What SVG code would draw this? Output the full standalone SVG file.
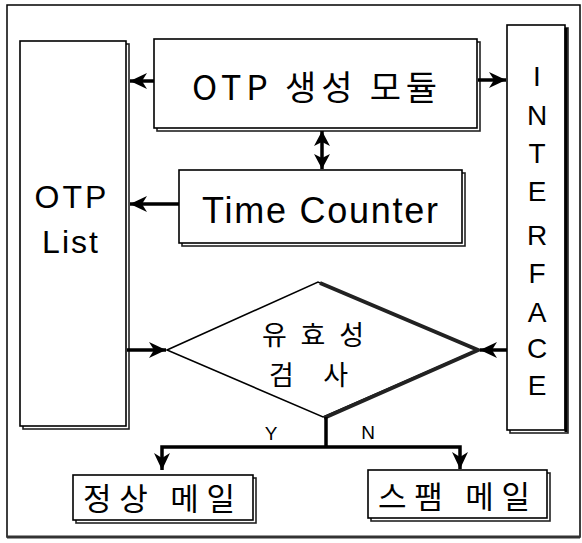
<svg xmlns="http://www.w3.org/2000/svg" width="582" height="543" viewBox="0 0 582 543">
<defs>
<style>
.box{fill:#fff;stroke:#000;stroke-width:1.6}
.sh{fill:none;stroke:#222;stroke-width:1.6}
.t{font-family:"Liberation Sans","Noto Sans CJK KR",sans-serif;fill:#000}
.k{font-family:"Noto Sans CJK KR","Liberation Sans",sans-serif;fill:#000}
.ln{fill:none;stroke:#000;stroke-width:3.5}
</style>
<marker id="ah" markerUnits="userSpaceOnUse" markerWidth="20" markerHeight="20" viewBox="-18 -10 20 20" refX="0" refY="0" orient="auto">
<path d="M0,0 L-17,-8 L-12,0 L-17,8 Z" fill="#000"/>
</marker>
<marker id="ahs" markerUnits="userSpaceOnUse" markerWidth="20" markerHeight="20" viewBox="-18 -10 20 20" refX="0" refY="0" orient="auto">
<path d="M0,0 L-15,-8 L-11,0 L-15,8 Z" fill="#000"/>
</marker>
</defs>
<rect width="582" height="543" fill="#fff"/>
<g id="frame">
<rect x="7" y="5" width="573" height="532" fill="none" stroke="#000" stroke-width="1.5"/>
<line x1="7" y1="537" x2="580" y2="537" stroke="#333" stroke-width="3"/>
</g>
<g id="otp-list">
<rect class="sh" x="23" y="44" width="106" height="385"/>
<rect class="box" x="20" y="41" width="106" height="385"/>
<text class="t" x="72" y="208" font-size="32" text-anchor="middle" letter-spacing="3">OTP</text>
<text class="t" x="71" y="253" font-size="32" text-anchor="middle" letter-spacing="2">List</text>
</g>
<g id="otp-module">
<rect class="sh" x="157" y="42" width="323" height="89"/>
<rect class="box" x="154" y="39" width="323" height="89"/>
<text class="k" x="192" y="100" font-size="34" textLength="245" lengthAdjust="spacing">OTP 생성 모듈</text>
</g>
<g id="time-counter">
<rect class="sh" x="182" y="173" width="283" height="73"/>
<rect class="box" x="179" y="170" width="283" height="73"/>
<text class="t" x="202" y="223" font-size="36" textLength="236" lengthAdjust="spacing">Time Counter</text>
</g>
<g id="interface">
<rect class="sh" x="510" y="28" width="58" height="405"/>
<rect class="box" x="507" y="25" width="58" height="405"/>
<line x1="566" y1="28" x2="566" y2="432" stroke="#000" stroke-width="3"/>
<g class="t" font-size="28" text-anchor="middle">
<text x="537" y="86">I</text>
<text x="537" y="125">N</text>
<text x="537" y="163">T</text>
<text x="537" y="201">E</text>
<text x="537" y="245">R</text>
<text x="537" y="283">F</text>
<text x="537" y="322">A</text>
<text x="537" y="358">C</text>
<text x="537" y="395">E</text>
</g>
</g>
<g id="validity-check">
<polygon points="167,350 318,282 477,350 323,417" fill="#fff" stroke="#000" stroke-width="1.6"/>
<polyline points="320,283 478,350 324,418" fill="none" stroke="#222" stroke-width="4"/>
<text class="k" x="262" y="345" font-size="27" textLength="102" lengthAdjust="spacing">유효성</text>
<text class="k" x="269" y="385" font-size="27" textLength="79" lengthAdjust="spacing">검사</text>
</g>
<g id="normal-mail">
<rect class="sh" x="76" y="478" width="180" height="45"/>
<rect class="box" x="73" y="475" width="180" height="45"/>
<text class="k" x="83" y="510" font-size="31" textLength="152" lengthAdjust="spacing">정상 메일</text>
</g>
<g id="spam-mail">
<rect class="sh" x="371" y="473" width="179" height="48"/>
<rect class="box" x="368" y="470" width="179" height="48"/>
<text class="k" x="378" y="508" font-size="31" textLength="152" lengthAdjust="spacing">스팸 메일</text>
</g>
<g id="connectors">
<line class="ln" x1="154" y1="81" x2="130" y2="81" marker-end="url(#ah)"/>
<line class="ln" x1="478" y1="80" x2="506" y2="80" marker-end="url(#ah)"/>
<line class="ln" x1="179" y1="204" x2="130" y2="204" marker-end="url(#ah)"/>
<line class="ln" x1="322" y1="150" x2="322" y2="131" marker-end="url(#ahs)"/>
<line class="ln" x1="322" y1="150" x2="322" y2="169" marker-end="url(#ahs)"/>
<line class="ln" x1="127" y1="350" x2="166" y2="350" marker-end="url(#ah)"/>
<line class="ln" x1="507" y1="350" x2="480" y2="350" marker-end="url(#ah)"/>
<polyline class="ln" points="326,417 326,447"/>
<polyline class="ln" points="326,447 162,447 162,470" marker-end="url(#ah)"/>
<polyline class="ln" points="326,447 460,447 460,469" marker-end="url(#ah)"/>
<text class="t" x="271" y="440" font-size="19" text-anchor="middle">Y</text>
<text class="t" x="368" y="439" font-size="19" text-anchor="middle">N</text>
</g>
</svg>
